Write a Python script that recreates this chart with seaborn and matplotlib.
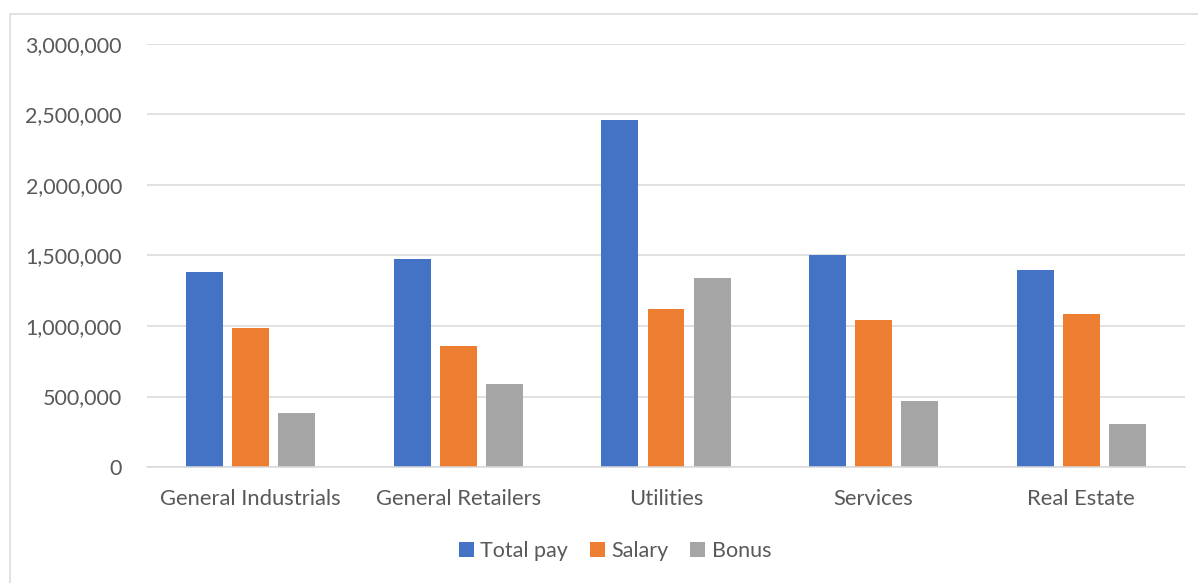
import pandas as pd
import seaborn as sns
import matplotlib.pyplot as plt
from matplotlib.patches import Rectangle
from matplotlib.ticker import FuncFormatter

# values
sectors = ['General Industrials', 'General Retailers', 'Utilities', 'Services', 'Real Estate']
total_pay = [1385000, 1475000, 2462000, 1505000, 1398000]
salary = [989000, 859000, 1120000, 1040000, 1085000]
bonus = [381000, 587000, 1342000, 467000, 308000]
series = ['Total pay', 'Salary', 'Bonus']
colors = ['#4472c4', '#ed7d31', '#a5a5a5']

df = pd.DataFrame({'Sector': sectors, 'Total pay': total_pay,
                   'Salary': salary, 'Bonus': bonus})
long = df.melt(id_vars='Sector', value_vars=series, var_name='Measure', value_name='Value')

sns.set_theme(style='white')
plt.rcParams['font.family'] = ['Lato', 'DejaVu Sans']

fig = plt.figure(figsize=(11.98, 5.83), dpi=100)
ax = fig.add_axes([147 / 1198, 1 - 467 / 583, (1185 - 147) / 1198, (467 - 44) / 583])

sns.barplot(data=long, x='Sector', y='Value', hue='Measure', hue_order=series,
            palette=colors, width=0.667, gap=0.2, saturation=1, ax=ax,
            edgecolor='none', linewidth=0)

ax.set_ylim(0, 3000000)
ax.set_xlim(-0.5, 4.5)
ax.set_yticks(range(0, 3000001, 500000))
ax.yaxis.set_major_formatter(FuncFormatter(lambda v, p: f'{int(v):,}'))
ax.grid(axis='y', color='#d9d9d9', linewidth=1.1)
ax.set_axisbelow(True)
for s in ['top', 'right', 'left']:
    ax.spines[s].set_visible(False)
ax.spines['bottom'].set_color('#d9d9d9')
ax.spines['bottom'].set_linewidth(1.1)
ax.tick_params(axis='y', length=0, pad=18, labelsize=15.5, labelcolor='#595959')
ax.tick_params(axis='x', length=0, pad=16, labelsize=15.8, labelcolor='#595959')
ax.set_xlabel('')
ax.set_ylabel('')

ax.legend(loc='center', bbox_to_anchor=(615 / 1198, 1 - 551 / 583), bbox_transform=fig.transFigure,
          ncol=3, frameon=False, fontsize=15.5, handlelength=0.7, handleheight=0.7,
          handletextpad=0.3, columnspacing=1.0, labelcolor='#595959')

fig.patches.append(Rectangle((9.5 / 1198, -0.01), 1.02, 1 - 14 / 583 + 0.01,
                             transform=fig.transFigure, fill=False,
                             edgecolor='#d9d9d9', linewidth=1.1))

fig.savefig('out.png', dpi=100)
